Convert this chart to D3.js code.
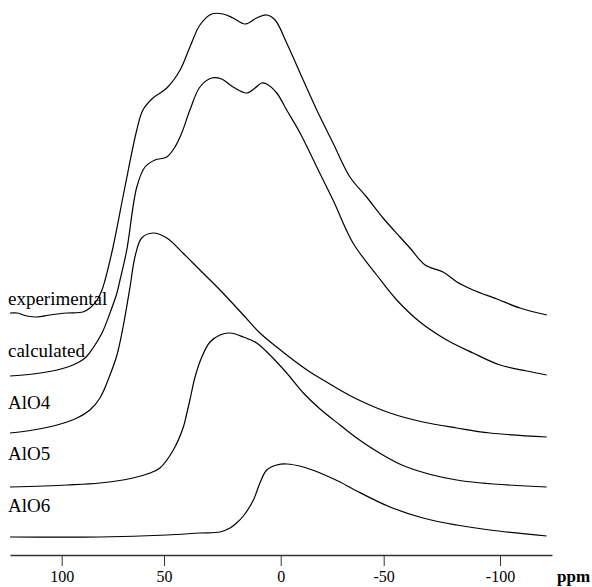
<!DOCTYPE html>
<html>
<head>
<meta charset="utf-8">
<script src="https://cdn.jsdelivr.net/npm/d3@7"></script>
<style>
  body { margin: 0; background: #fff; }
  svg { display: block; }
</style>
</head>
<body>
<div id="chart"></div>
<script>
const w = 592,
      h = 587;

// series in stack order, top to bottom
const seriesNames = ["experimental", "calculated", "AlO4", "AlO5", "AlO6"];
const stackOffsets = [240, 179, 118, 68, 18];

const ppmExp = [125.3,121.8,117.0,112.1,105.7,97.4,89.6,86.2,82.7,80.3,78.8,74.9,69.1,63.3,60.3,55.4,48.8,43.1,38.9,34.6,29.6,24.7,20.4,15.3,10.3,6.0,2.4,-2.9,-9.4,-17.5,-25.4,-33.6,-41.7,-49.7,-57.0,-61.3,-67.8,-75.5,-81.5,-88.4,-98.7,-108.6,-120.2];
const intExp = [2,2,-1,-2,0,2,3,7,15,25,35,68,128,185,205,217,227,245,268,290,301,301,297,291,297,300,295,272,242,205,172,138,118,97,78,67,50,43,33,25,16,7,0];

const ppmCalc = [125.3,114.0,102.3,94.5,88.6,84.7,80.3,76.4,73.0,71.5,68.2,63.3,59.3,54.4,48.8,45.3,42.4,38.9,34.6,29.6,25.3,20.4,14.6,11.0,8.2,6.0,1.7,-2.9,-9.4,-17.5,-25.4,-35.1,-46.6,-55.6,-65.6,-77.1,-88.4,-100,-111.5,-120.1];
const intCalc = [0,2,6,11,18,28,43,63,83,96,126,189,209,216,219,229,243,266,289,298,297,289,283,288,293,292,283,266,243,209,176,133,101,76,54,36,23,11,5,1];

const ppmAlO4 = [125.3,114.0,102.3,92.5,86.2,81.3,76.4,73.0,70.0,66.6,64.2,60.9,55.4,48.8,41.9,34.6,26.0,16.0,8.9,1.7,-6.1,-14.2,-22.3,-28.8,-36.9,-52.7,-66.9,-81.4,-95.7,-120.1];
const intAlO4 = [4,7,12,19,27,39,62,82,110,150,180,199,204,199,184,167,147,122,104,90,77,65,55,47,38,24,15,9,4,0];

const ppmAlO5 = [125.3,97.4,81.3,65.2,56.8,52.0,46.0,41.7,40.4,38.9,36.7,33.8,30.3,26.0,21.7,16.0,10.3,4.6,-2.9,-11.0,-19.1,-28.8,-36.9,-48.0,-59.9,-81.4,-120.1];
const intAlO5 = [0,2,4,9,14,19,37,60,72,87,110,130,145,152,154,150,144,132,114,94,78,62,49,34,20,7,0];

const ppmAlO6 = [125.3,81.3,48.8,34.6,26.0,21.7,18.9,16.0,11.7,8.9,6.0,1.7,-2.9,-11.0,-19.1,-28.8,-36.9,-52.7,-66.9,-81.4,-95.7,-120.1];
const intAlO6 = [0,0,2,4,5,9,14,21,37,54,67,72,73,70,64,55,46,30,19,12,7,1];

const tickValues = [100, 50, 0, -50, -100];
const axisDomain = [125.3, -122.4];

const ppmSets = [ppmExp, ppmCalc, ppmAlO4, ppmAlO5, ppmAlO6];
const intSets = [intExp, intCalc, intAlO4, intAlO5, intAlO6];

const serif = "'Liberation Serif', 'Times New Roman', serif";
const axisY = 555;

const svg = d3.select("#chart")
  .append("svg")
  .attr("width", w)
  .attr("height", h);

// ppm axis, tick spacing in the original is not perfectly even
const x = d3.scaleLinear()
  .domain([axisDomain[0], 100, 50, 0, -50, -100, axisDomain[1]])
  .range([10, 61.7, 164, 280.7, 383.7, 500, 552]);

const y = d3.scaleLinear()
  .domain([0, 555])
  .range([axisY, 0]);

const line = d3.line()
  .x(d => x(d[0]))
  .y(d => y(d[1]))
  .curve(d3.curveCatmullRom.alpha(0.5));

seriesNames.forEach((name, i) => {
  let pts = ppmSets[i].map((p, j) => [p, intSets[i][j] + stackOffsets[i]]);
  svg.append("path")
    .datum(pts)
    .attr("fill", "none")
    .attr("stroke", "#000")
    .attr("stroke-width", 1.2)
    .attr("d", line);

  svg.append("text")
    .attr("x", 8)
    .attr("y", 305 + i * 51.8)
    .style("font-family", serif)
    .style("font-size", "19px")
    .text(name);
});

const xAxis = d3.axisBottom(x)
  .tickValues(tickValues)
  .tickSize(11)
  .tickSizeOuter(0)
  .tickPadding(5)
  .tickFormat(d3.format("d"));

const gx = svg.append("g")
  .attr("transform", "translate(0," + axisY + ")")
  .call(xAxis);

gx.select(".domain")
  .attr("stroke", "#333")
  .attr("stroke-width", 1.6);

gx.selectAll(".tick line")
  .attr("stroke", "#333")
  .attr("stroke-width", 1);

gx.selectAll(".tick text")
  .style("font-family", serif)
  .style("font-size", "16px")
  .attr("fill", "#000")
  .text(d => d < 0 ? "-" + Math.abs(d) : d);

svg.append("text")
  .attr("x", 557)
  .attr("y", 582)
  .style("font-family", serif)
  .style("font-size", "17px")
  .style("font-weight", "bold")
  .text("ppm");
</script>
</body>
</html>
